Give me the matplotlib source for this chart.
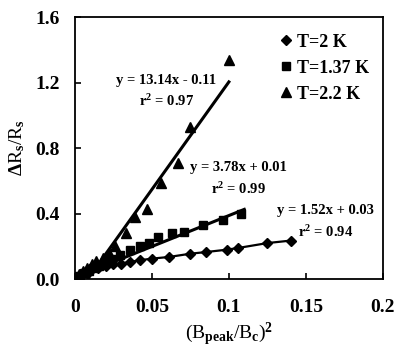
import numpy as np
import matplotlib
matplotlib.use("Agg")
import matplotlib.pyplot as plt
from matplotlib.ticker import FixedLocator, FixedFormatter

plt.rcParams['font.family'] = ['Liberation Serif', 'DejaVu Serif']
plt.rcParams['font.weight'] = 'bold'
plt.rcParams['mathtext.fontset'] = 'custom'
plt.rcParams['mathtext.rm'] = 'Liberation Serif:bold'
plt.rcParams['mathtext.it'] = 'Liberation Serif:bold'
plt.rcParams['mathtext.bf'] = 'Liberation Serif:bold'

# T = 2 K (diamonds)
x_2k = [0.001, 0.003, 0.005, 0.008, 0.011, 0.015, 0.02, 0.025, 0.03, 0.036,
        0.042, 0.05, 0.061, 0.075, 0.085, 0.099, 0.106, 0.125, 0.14]
y_2k = [0.01, 0.02, 0.03, 0.045, 0.06, 0.07, 0.08, 0.09, 0.095, 0.105,
        0.115, 0.125, 0.135, 0.155, 0.165, 0.18, 0.19, 0.22, 0.235]

# T = 1.37 K (squares)
x_137k = [0.001, 0.003, 0.006, 0.009, 0.012, 0.016, 0.02, 0.024, 0.029, 0.036,
          0.042, 0.048, 0.054, 0.063, 0.071, 0.083, 0.096, 0.108]
y_137k = [0.01, 0.02, 0.04, 0.05, 0.07, 0.08, 0.1, 0.12, 0.15, 0.18,
          0.2, 0.22, 0.26, 0.28, 0.29, 0.33, 0.36, 0.40]

# T = 2.2 K (triangles)
x_22k = [0.001, 0.003, 0.005, 0.008, 0.011, 0.014, 0.018, 0.022, 0.026, 0.033,
         0.039, 0.047, 0.056, 0.067, 0.075, 0.1]
y_22k = [0.01, 0.03, 0.05, 0.07, 0.09, 0.11, 0.13, 0.16, 0.2, 0.28,
         0.38, 0.43, 0.585, 0.71, 0.93, 1.34]

# linear fits as printed on the chart: slope, intercept, x range
fit_22k = (13.14, -0.11, 0.0084, 0.1)
fit_137k = (3.78, 0.01, 0.0, 0.11)

labels = ['T=2 K', 'T=1.37 K', 'T=2.2 K']
x_ticks = [0, 0.05, 0.1, 0.15, 0.2]
x_ticklabels = ['0', '0.05', '0.1', '0.15', '0.2']
y_ticks = [0.0, 0.4, 0.8, 1.2, 1.6]
y_ticklabels = ['0.0', '0.4', '0.8', '1.2', '1.6']

fig = plt.figure(figsize=(3.96, 3.48), dpi=100)
ax = fig.add_axes([0.189, 0.198, 0.778, 0.753])

ax.plot(x_2k, y_2k, color='black', lw=1.6, zorder=2)
h1, = ax.plot(x_2k, y_2k, 'D', color='black', ms=4.6, ls='none', zorder=3)
h2, = ax.plot(x_137k, y_137k, 's', color='black', ms=6, ls='none', zorder=3)
h3, = ax.plot(x_22k, y_22k, '^', color='black', ms=7, ls='none', zorder=3)

for m, b, x0, x1 in [fit_22k, fit_137k]:
    xs = np.array([x0, x1])
    ax.plot(xs, m * xs + b, color='black', lw=2.2, zorder=2)

ax.set_xlim(0, 0.2)
ax.set_ylim(0, 1.6)
ax.xaxis.set_major_locator(FixedLocator(x_ticks))
ax.xaxis.set_major_formatter(FixedFormatter(x_ticklabels))
ax.yaxis.set_major_locator(FixedLocator(y_ticks))
ax.yaxis.set_major_formatter(FixedFormatter(y_ticklabels))
ax.tick_params(direction='in', length=4, width=1.2, labelsize=14, top=False, right=False)
ax.tick_params(axis='x', pad=14)
ax.tick_params(axis='y', pad=11)
for s in ax.spines.values():
    s.set_linewidth(1.3)

ax.set_xlabel(r'(B$_{\rm peak}$/B$_{\rm c}$)$^2$', fontsize=14, labelpad=4)
ax.set_ylabel(r'$\Delta$R$_{\rm s}$/R$_{\rm s}$', fontsize=14, labelpad=6)

ax.text(0.0595, 1.21, 'y = 13.14x - 0.11', ha='center', va='center', fontsize=10.5)
ax.text(0.0595, 1.09, r'r$^2$ = 0.97', ha='center', va='center', fontsize=10.5)
ax.text(0.106, 0.68, 'y = 3.78x + 0.01', ha='center', va='center', fontsize=10.5)
ax.text(0.106, 0.55, r'r$^2$ = 0.99', ha='center', va='center', fontsize=10.5)
ax.text(0.163, 0.42, 'y = 1.52x + 0.03', ha='center', va='center', fontsize=10.5)
ax.text(0.163, 0.29, r'r$^2$ = 0.94', ha='center', va='center', fontsize=10.5)

ax.legend([h1, h2, h3], labels, loc='upper left', bbox_to_anchor=(0.62, 0.985),
          frameon=False, fontsize=13, handlelength=0.8, handletextpad=0.25,
          labelspacing=0.5, borderpad=0.2)

fig.savefig('out.png', dpi=100)
